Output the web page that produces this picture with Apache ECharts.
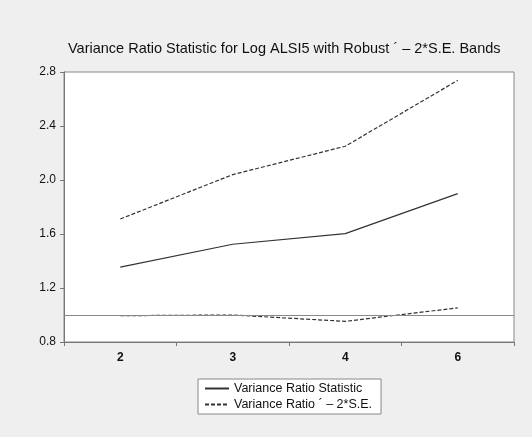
<!DOCTYPE html>
<html>
<head>
<meta charset="utf-8">
<script src="https://cdn.jsdelivr.net/npm/echarts@6/dist/echarts.min.js"></script>
<style>
  html, body { margin: 0; padding: 0; background: #efefef; }
  #chart { width: 532px; height: 437px; }
</style>
</head>
<body>
<div id="chart"></div>
<script>
// lag lengths on the x axis
const lags = ['2', '3', '4', '6'];
// variance ratio statistic
const vrStat = [1.355, 1.524, 1.603, 1.899];
// +/- 2 S.E. bands
const upperBand = [1.711, 2.04, 2.25, 2.738];
const lowerBand = [0.995, 1.0, 0.953, 1.053];
const refLevel = 1.0;

const bandName = 'Variance Ratio \u00b4 \u2013 2*S.E.';
const lineColor = '#333';

const myChart = echarts.init(document.getElementById('chart'));

const option = {
  backgroundColor: '#efefef',
  animation: false,
  textStyle: { fontFamily: 'Liberation Sans, Arial, sans-serif' },
  title: {
    text: 'Variance Ratio Statistic for Log ALSI5 with Robust \u00b4 \u2013 2*S.E. Bands',
    left: 63,
    top: 36,
    textStyle: { fontSize: 14.5, fontWeight: 'normal', color: '#111' }
  },
  grid: {
    left: 64, right: 18, top: 72, bottom: 95,
    show: true, backgroundColor: '#fff', borderColor: '#888', borderWidth: 1
  },
  legend: {
    orient: 'vertical',
    left: 198,
    top: 379,
    backgroundColor: '#fff',
    borderColor: '#888',
    borderWidth: 1,
    borderRadius: 0,
    padding: [3, 9, 3, 6],
    itemGap: 3,
    itemWidth: 24,
    itemHeight: 10,
    itemStyle: { opacity: 0 },
    textStyle: { fontSize: 12.5, color: '#111' },
    data: ['Variance Ratio Statistic', bandName]
  },
  xAxis: {
    type: 'category',
    data: lags,
    boundaryGap: true,
    axisLine: { lineStyle: { color: '#777', width: 1 } },
    axisTick: { show: true, length: 4, lineStyle: { color: '#777' } },
    axisLabel: { color: '#111', fontSize: 12, fontWeight: 'bold', margin: 10 },
    splitLine: { show: false }
  },
  yAxis: {
    type: 'value',
    min: 0.8,
    max: 2.8,
    interval: 0.4,
    axisLine: { show: true, lineStyle: { color: '#777', width: 1 } },
    axisTick: { show: true, length: 4, lineStyle: { color: '#777' } },
    axisLabel: {
      color: '#111', fontSize: 12, margin: 8,
      formatter: v => v.toFixed(1)
    },
    splitLine: { show: false }
  },
  series: [
    {
      name: 'Variance Ratio Statistic',
      type: 'line',
      data: vrStat,
      symbol: 'none',
      itemStyle: { color: lineColor },
      lineStyle: { color: lineColor, width: 1.2 },
      markLine: {
        silent: true,
        symbol: 'none',
        label: { show: false },
        lineStyle: { color: '#888', width: 1, type: 'solid' },
        data: [{ yAxis: refLevel }]
      }
    },
    {
      name: bandName,
      type: 'line',
      data: upperBand,
      symbol: 'none',
      itemStyle: { color: lineColor },
      lineStyle: { color: lineColor, width: 1.2, type: [4, 2] }
    },
    {
      name: bandName,
      type: 'line',
      data: lowerBand,
      symbol: 'none',
      itemStyle: { color: lineColor },
      lineStyle: { color: lineColor, width: 1.2, type: [4, 2] }
    }
  ]
};

myChart.setOption(option);
</script>
</body>
</html>
